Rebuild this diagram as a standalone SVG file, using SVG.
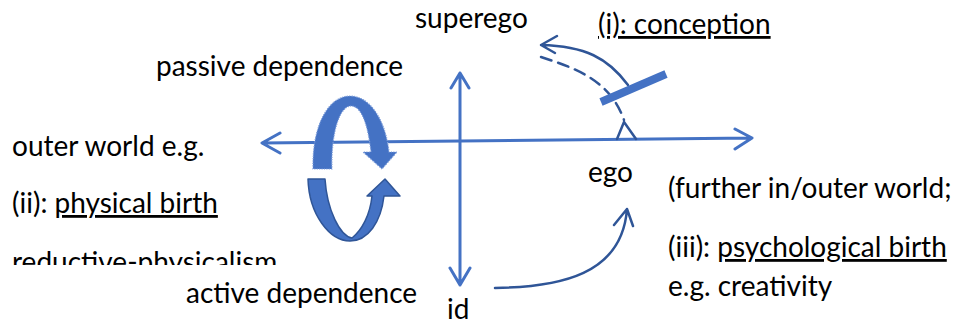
<svg xmlns="http://www.w3.org/2000/svg" width="963" height="325" viewBox="0 0 963 325">
<style>
text{font-family:Lato,"Liberation Sans",sans-serif;font-size:28px;fill:#000}
.u{text-decoration:underline;text-decoration-skip-ink:none}
.ax{fill:none;stroke:#4472C4;stroke-width:3;stroke-linecap:round;stroke-linejoin:round}
.cv{fill:none;stroke:#2F5597;stroke-width:2.5;stroke-linecap:round;stroke-linejoin:round}
</style>
<defs>
<clipPath id="clipR"><rect x="0" y="240" width="300" height="25"/></clipPath>
</defs>
<rect width="963" height="325" fill="#fff"/>
<g id="connectors">
<path class="ax" d="M262,143 L752,138 M280,133 L262,143 L280,153 M735,129 L752,138 L735,149"/>
<path class="ax" d="M460,73 L460,285 M451,88 L460,73 L469,88 M450,268 L460,285 L470,268"/>
<path class="cv" d="M495,288 C560,287 622,275 627,209 M614,225 L627,209 L633,226"/>
<path class="cv" d="M628,85 C608,58 585,46 541,45 M557,36 L541,45 L555,53"/>
<path class="cv" stroke-dasharray="11 7" d="M541,57 C575,68 610,80 624,120"/>
<path class="cv" stroke-width="2" d="M617,139 L624,122 L636,139"/>
<line x1="601" y1="102" x2="666" y2="74" stroke="#4472C4" stroke-width="8"/>
</g>
<g id="cycle-top">
<path d="M313,169 C312,124 329,96 350,96 C371,96 386,122 389,152 L397,152 L382,169 L363,152 L371,152 C368,126 362,106 351,106 C339,106 331,135 332,169 Z" fill="#4472C4" stroke="#7F9FDB" stroke-width="1.2" stroke-dasharray="1.2 1.2"/>
</g>
<g id="cycle-bottom">
<path d="M308,179 L325,179 C327,210 340,236 352,238 C362,230 370,215 372,196 L367,196 L385,179 L400,196 L384,196 C381,222 368,241 350,241 C330,241 309,215 308,179 Z" fill="#4472C4" stroke="#2F5597" stroke-width="1.5" stroke-linejoin="round"/>
</g>
<g id="superego"><text x="415" y="28">superego</text></g>
<g id="conception"><text x="598" y="34" class="u">(i): conception</text></g>
<g id="passive"><text x="156" y="76">passive dependence</text></g>
<g id="outer"><text x="12" y="156">outer world e.g.</text></g>
<g id="ego"><text x="588" y="182">ego</text></g>
<g id="further"><text x="668" y="198">(further in/outer world;</text></g>
<g id="physical"><text x="12" y="213">(ii): <tspan class="u">physical birth</tspan></text></g>
<g id="psychological"><text x="668" y="257">(iii): <tspan class="u">psychological birth</tspan></text></g>
<g id="reductive"><text x="12" y="272" clip-path="url(#clipR)">reductive-physicalism</text></g>
<g id="active"><text x="186" y="303">active dependence</text></g>
<g id="creativity"><text x="668" y="296">e.g. creativity</text></g>
<g id="id"><text x="447" y="319">id</text></g>
</svg>
